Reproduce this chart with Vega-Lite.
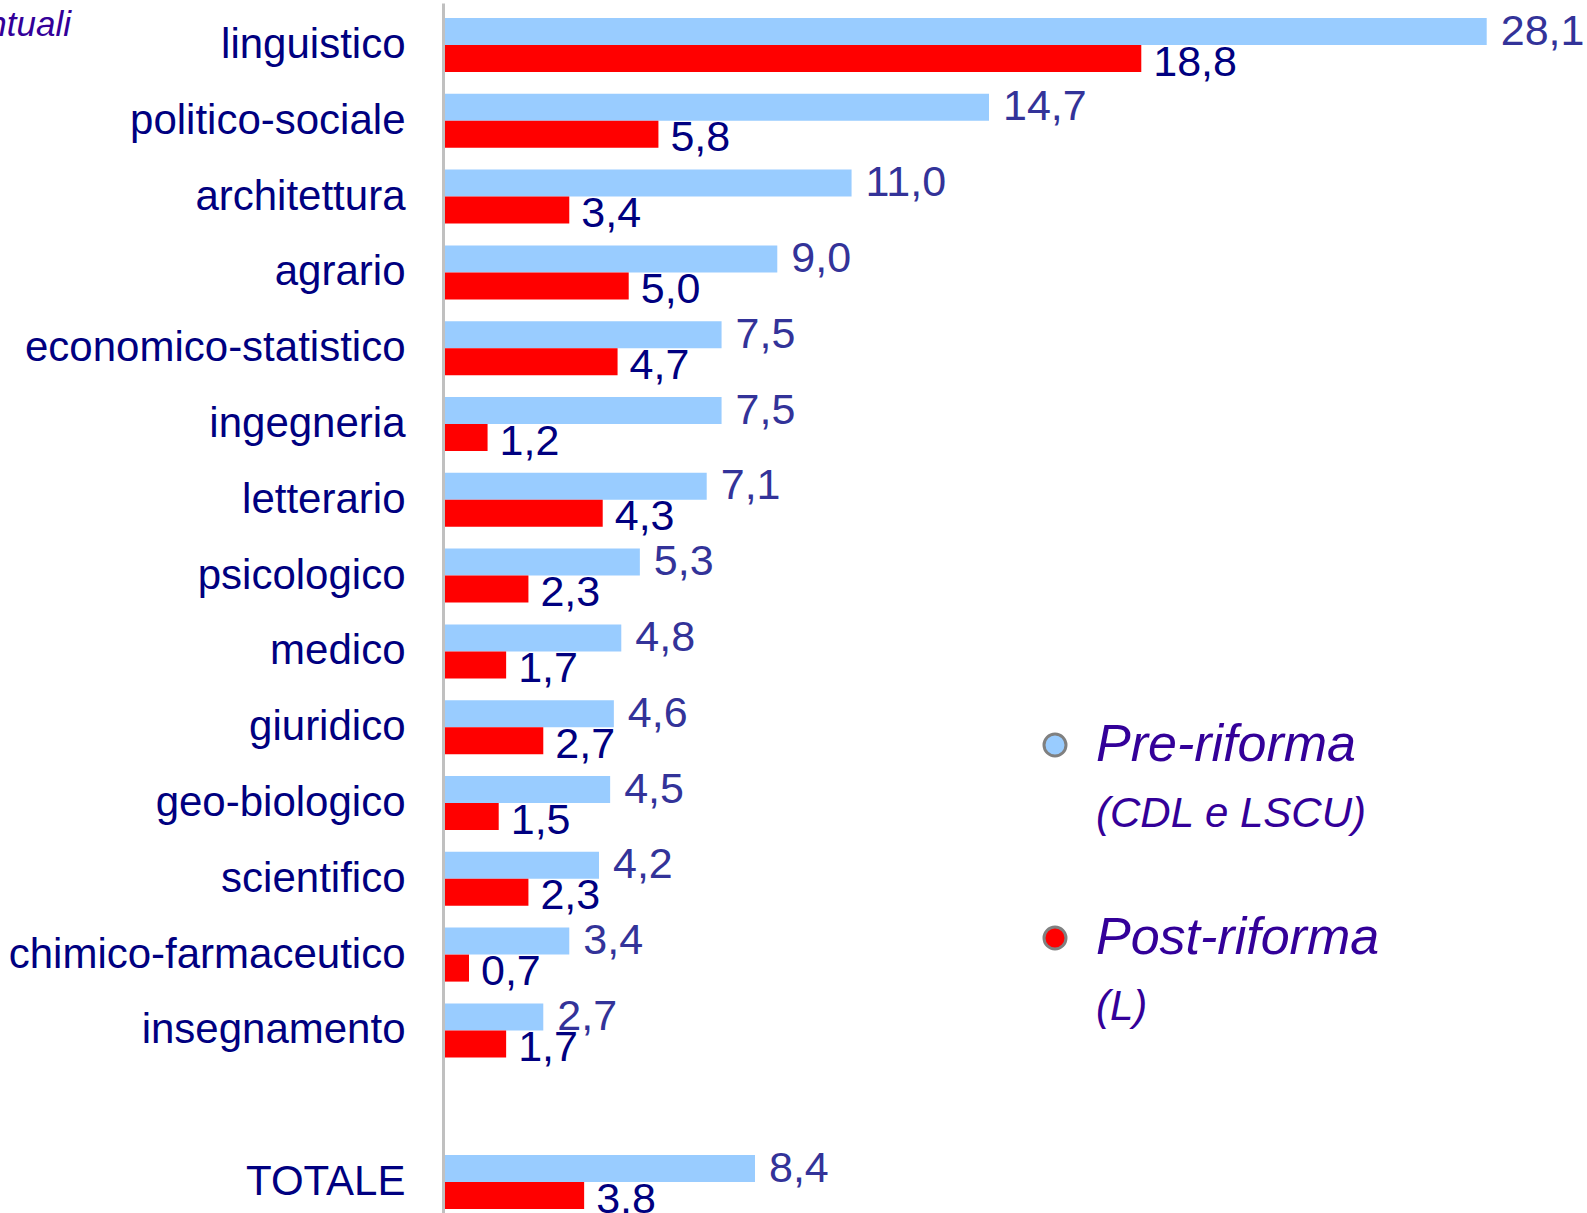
{
  "$schema": "https://vega.github.io/schema/vega-lite/v6.json",
  "width": 1144,
  "height": 1210,
  "autosize": {"type": "none"},
  "padding": {"left": 443, "top": 3, "right": 0, "bottom": 0},
  "background": "white",
  "config": {
    "view": {"stroke": null},
    "locale": {"number": {"decimal": ",", "thousands": ".", "grouping": [3], "currency": ["€", ""]}}
  },
  "title": {
    "text": "Valori percentuali",
    "anchor": "start",
    "frame": "group",
    "align": "right",
    "baseline": "alphabetic",
    "offset": -34,
    "dx": -372,
    "dy": 34,
    "font": "Liberation Sans",
    "fontStyle": "italic",
    "fontWeight": "normal",
    "fontSize": 35,
    "color": "#330099"
  },
  "data": {
    "values": [
      {"settore": "linguistico", "periodo": "Pre-riforma", "nota": "(CDL e LSCU)", "valore": 28.1},
      {"settore": "linguistico", "periodo": "Post-riforma", "nota": "(L)", "valore": 18.8},
      {"settore": "politico-sociale", "periodo": "Pre-riforma", "nota": "(CDL e LSCU)", "valore": 14.7},
      {"settore": "politico-sociale", "periodo": "Post-riforma", "nota": "(L)", "valore": 5.8},
      {"settore": "architettura", "periodo": "Pre-riforma", "nota": "(CDL e LSCU)", "valore": 11.0},
      {"settore": "architettura", "periodo": "Post-riforma", "nota": "(L)", "valore": 3.4},
      {"settore": "agrario", "periodo": "Pre-riforma", "nota": "(CDL e LSCU)", "valore": 9.0},
      {"settore": "agrario", "periodo": "Post-riforma", "nota": "(L)", "valore": 5.0},
      {"settore": "economico-statistico", "periodo": "Pre-riforma", "nota": "(CDL e LSCU)", "valore": 7.5},
      {"settore": "economico-statistico", "periodo": "Post-riforma", "nota": "(L)", "valore": 4.7},
      {"settore": "ingegneria", "periodo": "Pre-riforma", "nota": "(CDL e LSCU)", "valore": 7.5},
      {"settore": "ingegneria", "periodo": "Post-riforma", "nota": "(L)", "valore": 1.2},
      {"settore": "letterario", "periodo": "Pre-riforma", "nota": "(CDL e LSCU)", "valore": 7.1},
      {"settore": "letterario", "periodo": "Post-riforma", "nota": "(L)", "valore": 4.3},
      {"settore": "psicologico", "periodo": "Pre-riforma", "nota": "(CDL e LSCU)", "valore": 5.3},
      {"settore": "psicologico", "periodo": "Post-riforma", "nota": "(L)", "valore": 2.3},
      {"settore": "medico", "periodo": "Pre-riforma", "nota": "(CDL e LSCU)", "valore": 4.8},
      {"settore": "medico", "periodo": "Post-riforma", "nota": "(L)", "valore": 1.7},
      {"settore": "giuridico", "periodo": "Pre-riforma", "nota": "(CDL e LSCU)", "valore": 4.6},
      {"settore": "giuridico", "periodo": "Post-riforma", "nota": "(L)", "valore": 2.7},
      {"settore": "geo-biologico", "periodo": "Pre-riforma", "nota": "(CDL e LSCU)", "valore": 4.5},
      {"settore": "geo-biologico", "periodo": "Post-riforma", "nota": "(L)", "valore": 1.5},
      {"settore": "scientifico", "periodo": "Pre-riforma", "nota": "(CDL e LSCU)", "valore": 4.2},
      {"settore": "scientifico", "periodo": "Post-riforma", "nota": "(L)", "valore": 2.3},
      {"settore": "chimico-farmaceutico", "periodo": "Pre-riforma", "nota": "(CDL e LSCU)", "valore": 3.4},
      {"settore": "chimico-farmaceutico", "periodo": "Post-riforma", "nota": "(L)", "valore": 0.7},
      {"settore": "insegnamento", "periodo": "Pre-riforma", "nota": "(CDL e LSCU)", "valore": 2.7},
      {"settore": "insegnamento", "periodo": "Post-riforma", "nota": "(L)", "valore": 1.7},
      {"settore": "TOTALE", "periodo": "Pre-riforma", "nota": "(CDL e LSCU)", "valore": 8.4},
      {"settore": "TOTALE", "periodo": "Post-riforma", "nota": "(L)", "valore": 3.8}
    ]
  },
  "encoding": {
    "y": {
      "field": "settore",
      "type": "nominal",
      "title": null,
      "scale": {
        "domain": ["linguistico", "politico-sociale", "architettura", "agrario", "economico-statistico", "ingegneria", "letterario", "psicologico", "medico", "giuridico", "geo-biologico", "scientifico", "chimico-farmaceutico", "insegnamento", " ", "TOTALE"],
        "paddingInner": 0.2876,
        "paddingOuter": 0.1253,
        "align": 0.79
      },
      "axis": {
        "domainColor": "#C0C0C0",
        "domainWidth": 3,
        "ticks": false,
        "grid": false,
        "labelPadding": 38,
        "labelFont": "Liberation Sans",
        "labelFontSize": 42,
        "labelColor": "#000080",
        "labelLimit": 0,
        "zindex": 1
      }
    },
    "yOffset": {
      "field": "periodo",
      "type": "nominal",
      "scale": {"domain": ["Pre-riforma", "Post-riforma"], "paddingInner": 0, "paddingOuter": 0}
    },
    "x": {
      "field": "valore",
      "type": "quantitative",
      "scale": {"domain": [0, 30.8], "nice": false, "zero": true},
      "axis": null
    }
  },
  "layer": [
    {
      "mark": {"type": "bar"},
      "encoding": {
        "color": {
          "field": "periodo",
          "type": "nominal",
          "scale": {"domain": ["Pre-riforma", "Post-riforma"], "range": ["#99CCFF", "#FF0000"]},
          "legend": {
            "orient": "none",
            "legendX": 586,
            "legendY": 716,
            "title": null,
            "padding": 0,
            "symbolType": "circle",
            "symbolSize": 484,
            "symbolStrokeColor": "#808080",
            "symbolStrokeWidth": 3,
            "labelFont": "Liberation Sans",
            "labelFontStyle": "italic",
            "labelFontSize": 52,
            "labelColor": "#330099",
            "labelOffset": 15,
            "labelLimit": 0,
            "rowPadding": 141
          }
        },
        "opacity": {
          "field": "nota",
          "type": "ordinal",
          "scale": {"domain": ["(CDL e LSCU)", "(L)"], "range": [1, 1]},
          "legend": {
            "orient": "none",
            "legendX": 586,
            "legendY": 790,
            "title": null,
            "padding": 0,
            "symbolType": "circle",
            "symbolSize": 484,
            "symbolFillColor": "transparent",
            "symbolStrokeColor": "transparent",
            "symbolStrokeWidth": 0,
            "labelFont": "Liberation Sans",
            "labelFontStyle": "italic",
            "labelFontSize": 42,
            "labelColor": "#330099",
            "labelOffset": 25,
            "labelLimit": 0,
            "rowPadding": 151
          }
        }
      }
    },
    {
      "transform": [{"filter": "datum.periodo === 'Pre-riforma'"}],
      "mark": {
        "type": "text",
        "align": "left",
        "baseline": "middle",
        "dx": 14,
        "dy": 0,
        "font": "Liberation Sans",
        "fontSize": 43,
        "color": "#333399"
      },
      "encoding": {
        "text": {"field": "valore", "type": "quantitative", "format": ".1f"}
      }
    },
    {
      "transform": [{"filter": "datum.periodo === 'Post-riforma'"}],
      "mark": {
        "type": "text",
        "align": "left",
        "baseline": "middle",
        "dx": 12,
        "dy": 4,
        "font": "Liberation Sans",
        "fontSize": 43,
        "color": "#000080"
      },
      "encoding": {
        "text": {"field": "valore", "type": "quantitative", "format": ".1f"}
      }
    }
  ]
}
